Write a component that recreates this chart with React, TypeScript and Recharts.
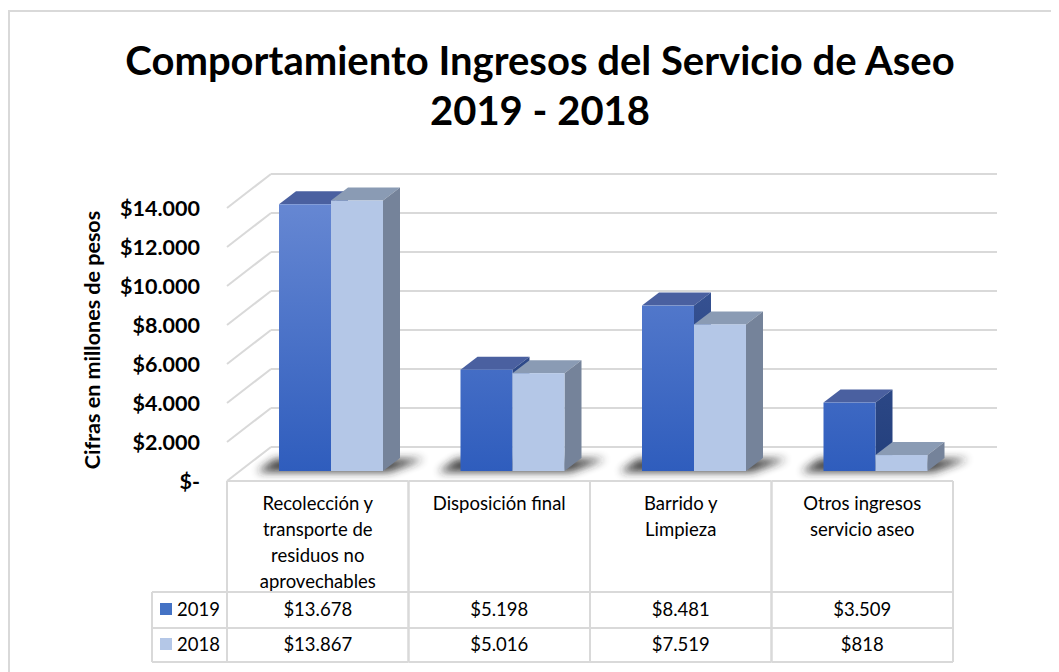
import React from 'react';
import { BarChart, Bar, XAxis, YAxis, CartesianGrid } from 'recharts';

const categories = [
  'Recolección y transporte de residuos no aprovechables',
  'Disposición final',
  'Barrido y Limpieza',
  'Otros ingresos servicio aseo',
];
const categoryLines = [
  ['Recolección y', 'transporte de', 'residuos no', 'aprovechables'],
  ['Disposición final'],
  ['Barrido y', 'Limpieza'],
  ['Otros ingresos', 'servicio aseo'],
];
const values2019 = [13678, 5198, 8481, 3509];
const values2018 = [13867, 5016, 7519, 818];
const seriesNames = ['2019', '2018'];
const yTicks = [0, 2000, 4000, 6000, 8000, 10000, 12000, 14000];

const fmt = (v: number) => {
  if (v === 0) return '$-';
  const s = String(Math.round(v));
  return '$' + s.replace(/\B(?=(\d{3})+(?!\d))/g, '.');
};

const data = categories.map((c, i) => ({ name: c, lines: categoryLines[i], v2019: values2019[i], v2018: values2018[i] }));

const W = 1043;
const H = 656;
const M = { top: 190, right: 85, bottom: 3, left: 172 };
const Y_AXIS_W = 60;
const X_AXIS_H = 190;
const PLOT_W = W - M.left - Y_AXIS_W - M.right;
const BAND = PLOT_W / categories.length;
// depth geometry
const FRONT_DX = -13, FRONT_DY = 10; // bar plane -> front plane
const BACK_DX = 31, BACK_DY = -24; // bar plane -> back wall
const BDX = 17, BDY = 13; // bar depth
const FONT = 'Lato, "Open Sans", sans-serif';
const GRID = '#d9d9d9';
const COL_2019 = '#4472c4';
const COL_2018 = '#b4c7e7';
const TFS = 18.5;

const Defs = () => (
  <defs>
    <linearGradient id="g2019" gradientUnits="userSpaceOnUse" x1="0" y1={M.top} x2="0" y2={H - M.bottom - X_AXIS_H}>
      <stop offset="0" stopColor="#6788d3" />
      <stop offset="1" stopColor="#2f5dbd" />
    </linearGradient>
    <linearGradient id="g2019side" gradientUnits="userSpaceOnUse" x1="0" y1={M.top} x2="0" y2={H - M.bottom - X_AXIS_H}>
      <stop offset="0" stopColor="#3f5a9c" />
      <stop offset="1" stopColor="#233f7c" />
    </linearGradient>
    <filter id="shadowBlur" x="-50%" y="-200%" width="200%" height="500%">
      <feGaussianBlur stdDeviation="4" />
    </filter>
  </defs>
);

const Bar2019 = (p: any) => {
  const { x, y, width: w, height: h } = p;
  const base = y + h;
  return (
    <g>
      <Defs />
      <polygon
        points={`${x - 22},${base + 1} ${x + 2 * w + 6},${base + 1} ${x + 2 * w + BDX + 24},${base - BDY + 1} ${x - 4},${base - BDY + 1}`}
        fill="#222"
        opacity={0.85}
        filter="url(#shadowBlur)"
      />
      <polygon points={`${x},${y} ${x + BDX},${y - BDY} ${x + w + BDX},${y - BDY} ${x + w},${y}`} fill="#4a60a0" />
      <polygon points={`${x + w},${y} ${x + w + BDX},${y - BDY} ${x + w + BDX},${base - BDY} ${x + w},${base}`} fill="url(#g2019side)" />
      <rect x={x} y={y} width={w} height={h} fill="url(#g2019)" />
    </g>
  );
};

const Bar2018 = (p: any) => {
  const { x, y, width: w, height: h } = p;
  const base = y + h;
  return (
    <g>
      <polygon points={`${x},${y} ${x + BDX},${y - BDY} ${x + w + BDX},${y - BDY} ${x + w},${y}`} fill="#8a9bb4" />
      <polygon points={`${x + w},${y} ${x + w + BDX},${y - BDY} ${x + w + BDX},${base - BDY} ${x + w},${base}`} fill="#75839a" />
      <rect x={x} y={y} width={w} height={h} fill={COL_2018} />
    </g>
  );
};

const GridLine = (p: any) => {
  const { x1, x2, y1 } = p;
  return (
    <g key={`gl-${y1}`}>
      <line x1={x1 + BACK_DX} x2={x2 + BACK_DX} y1={y1 + BACK_DY} y2={y1 + BACK_DY} stroke={GRID} strokeWidth={2} />
      <line x1={x1 + FRONT_DX} x2={x1 + BACK_DX} y1={y1 + FRONT_DY} y2={y1 + BACK_DY} stroke={GRID} strokeWidth={2} />
    </g>
  );
};

const YTick = (p: any) => {
  const { x, y, payload } = p;
  return (
    <text x={x - 40} y={y + FRONT_DY} textAnchor="end" dominantBaseline="central" fontFamily={FONT} fontWeight={700} fontSize={21.5} fill="#000">
      {fmt(payload.value)}
    </text>
  );
};

const XTick = (p: any) => {
  const { x, y, payload, index } = p;
  const d = data[index] || data.find((e) => e.name === payload.value);
  const left = x + FRONT_DX - BAND / 2;
  const right = left + BAND;
  const cx = left + BAND / 2;
  const top = y + FRONT_DY;
  const hb = top + 111;
  const r1 = top + 147;
  const r2 = top + 181;
  const legLeft = left - 75;
  return (
    <g>
      <line x1={left} x2={right} y1={top} y2={top} stroke={GRID} strokeWidth={2} />
      <line x1={left} x2={left} y1={top} y2={r2} stroke={GRID} strokeWidth={2} />
      <line x1={right} x2={right} y1={top} y2={r2} stroke={GRID} strokeWidth={2} />
      <line x1={left} x2={right} y1={hb} y2={hb} stroke={GRID} strokeWidth={2} />
      <line x1={left} x2={right} y1={r1} y2={r1} stroke={GRID} strokeWidth={2} />
      <line x1={left} x2={right} y1={r2} y2={r2} stroke={GRID} strokeWidth={2} />
      {d.lines.map((ln: string, i: number) => (
        <text key={i} x={cx} y={top + 22 + i * 26} textAnchor="middle" dominantBaseline="central" fontFamily={FONT} fontSize={TFS} fill="#000">
          {ln}
        </text>
      ))}
      <text x={cx} y={top + 128} textAnchor="middle" dominantBaseline="central" fontFamily={FONT} fontSize={TFS} fill="#000">
        {fmt(d.v2019)}
      </text>
      <text x={cx} y={top + 163} textAnchor="middle" dominantBaseline="central" fontFamily={FONT} fontSize={TFS} fill="#000">
        {fmt(d.v2018)}
      </text>
      {index === 0 && (
        <g>
          <line x1={legLeft} x2={left} y1={hb} y2={hb} stroke={GRID} strokeWidth={2} />
          <line x1={legLeft} x2={left} y1={r1} y2={r1} stroke={GRID} strokeWidth={2} />
          <line x1={legLeft} x2={left} y1={r2} y2={r2} stroke={GRID} strokeWidth={2} />
          <line x1={legLeft} x2={legLeft} y1={hb} y2={r2} stroke={GRID} strokeWidth={2} />
          <rect x={legLeft + 8} y={top + 122} width={12} height={12} fill={COL_2019} />
          <rect x={legLeft + 8} y={top + 157} width={12} height={12} fill={COL_2018} />
          <text x={legLeft + 25} y={top + 128} dominantBaseline="central" fontFamily={FONT} fontSize={TFS} fill="#000">
            {seriesNames[0]}
          </text>
          <text x={legLeft + 25} y={top + 163} dominantBaseline="central" fontFamily={FONT} fontSize={TFS} fill="#000">
            {seriesNames[1]}
          </text>
        </g>
      )}
    </g>
  );
};

export default function App() {
  return (
    <div style={{ position: 'relative', width: 1051, height: 664, overflow: 'hidden', fontFamily: FONT }}>
      <div style={{ position: 'absolute', left: 0, top: 2, width: 1200, height: 800, border: `2px solid ${GRID}`, boxSizing: 'border-box' }} />
      <div
        style={{
          position: 'absolute',
          left: 0,
          top: 27,
          width: 1064,
          textAlign: 'center',
          fontSize: 40,
          lineHeight: '50px',
          fontWeight: 700,
          color: '#000',
        }}
      >
        Comportamiento Ingresos del Servicio de Aseo
        <br />
        2019 - 2018
      </div>
      <div
        style={{
          position: 'absolute',
          left: 84 - 150,
          top: 332 - 12,
          width: 300,
          height: 24,
          lineHeight: '24px',
          textAlign: 'center',
          transform: 'rotate(-90deg)',
          fontSize: 21.5,
          fontWeight: 700,
          color: '#000',
          whiteSpace: 'nowrap',
        }}
      >
        Cifras en millones de pesos
      </div>
      <div style={{ position: 'absolute', left: 0, top: 0 }}>
        <BarChart width={W} height={H} data={data} margin={M} barGap={0} barSize={52}>
          <CartesianGrid horizontal={GridLine as any} vertical={false} />
          <XAxis dataKey="name" height={X_AXIS_H} axisLine={false} tickLine={false} tickSize={0} tickMargin={0} tick={XTick as any} interval={0} />
          <YAxis width={Y_AXIS_W} domain={[0, 14000]} ticks={yTicks} axisLine={false} tickLine={false} tickSize={0} tickMargin={0} tick={YTick as any} interval={0} />
          <Bar dataKey="v2019" name="2019" fill={COL_2019} shape={Bar2019 as any} isAnimationActive={false} />
          <Bar dataKey="v2018" name="2018" fill={COL_2018} shape={Bar2018 as any} isAnimationActive={false} />
        </BarChart>
      </div>
    </div>
  );
}
